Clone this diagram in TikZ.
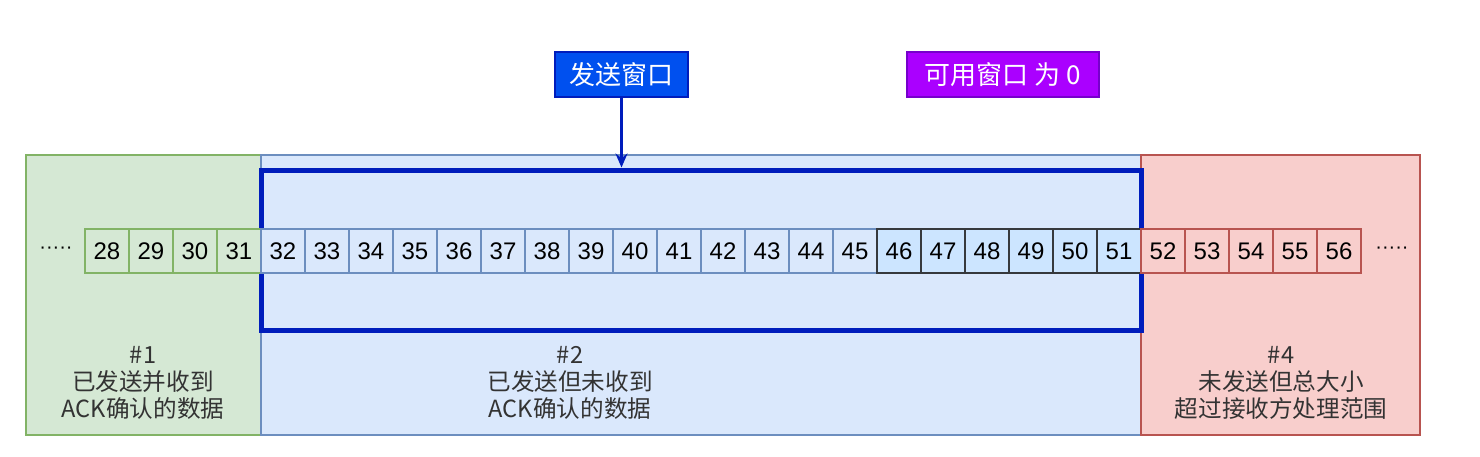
\documentclass[tikz,border=0pt]{standalone}
\usepackage{fontspec}
\setmainfont{Liberation Sans}
\newfontfamily\cjk{Noto Sans CJK SC}
\usetikzlibrary{arrows.meta}

\definecolor{sentfill}{HTML}{D5E8D4}
\definecolor{sentline}{HTML}{82B366}
\definecolor{flyfill}{HTML}{DAE8FC}
\definecolor{flyline}{HTML}{6C8EBF}
\definecolor{usefill}{HTML}{CCE5FF}
\definecolor{useline}{HTML}{36393D}
\definecolor{outfill}{HTML}{F8CECC}
\definecolor{outline}{HTML}{B85450}
\definecolor{winblue}{HTML}{001DBC}
\definecolor{sendfill}{HTML}{0050EF}
\definecolor{zerofill}{HTML}{AA00FF}
\definecolor{zeroline}{HTML}{7700CC}

\tikzset{
  region/.style={draw, line width=1pt, minimum height=140pt, inner sep=0pt},
  seqcell/.style={draw, line width=1pt, minimum width=22pt, minimum height=22pt,
    inner sep=0pt, font=\fontsize{12}{12}\selectfont},
  tag/.style={draw, line width=0.6pt, text=white, minimum height=22.5pt, inner sep=0pt,
    font=\cjk\fontsize{13}{13}\selectfont},
  note/.style={align=center, font=\cjk\fontsize{11.8}{13.5}\selectfont, text=black!80},
  dots/.style={font=\fontsize{10}{10}\selectfont}
}

\begin{document}
\begin{tikzpicture}[x=0.5pt, y=-0.5pt]
  \useasboundingbox (0,0) rectangle (1480,456);

  \node [region, fill=sentfill, draw=sentline, minimum width=117.5pt] (sent) at (143.5,295) {};
  \node [region, fill=flyfill, draw=flyline, minimum width=440pt] (fly) at (701,295) {};
  \node [region, fill=outfill, draw=outline, minimum width=139.5pt] (over) at (1280.5,295) {};

  \node [draw=winblue, line width=2.5pt, minimum width=440pt, minimum height=80pt,
    inner sep=0pt] (win) at (701,250) {};

  \foreach \n in {28,...,56} {
    \pgfmathsetmacro{\cx}{107+44*(\n-28)}
    \ifnum\n<32
      \node [seqcell, fill=sentfill, draw=sentline] (c\n) at (\cx,251) {\n};
    \else\ifnum\n<46
      \node [seqcell, fill=flyfill, draw=flyline] (c\n) at (\cx,251) {\n};
    \else\ifnum\n<52
      \node [seqcell, fill=usefill, draw=useline] (c\n) at (\cx,251) {\n};
    \else
      \node [seqcell, fill=outfill, draw=outline] (c\n) at (\cx,251) {\n};
    \fi\fi\fi
  }
  \node [dots] (ldots) at (56,250) {·····};
  \node [dots] (rdots) at (1392,250) {·····};

  \node [tag, fill=sendfill, draw=winblue, minimum width=66.5pt] (send) at (621.5,74.5) {发送窗口};
  \node [tag, fill=zerofill, draw=zeroline, minimum width=96pt] (zero) at (1003,74.5) {可用窗口 为 0};
  \draw [winblue, line width=1.2pt, -{Stealth[length=7pt, width=6pt]}] (send) -- (send |- win.north);

  \node [note] (n1) at (143,383) {\#1\\已发送并收到\\ACK确认的数据};
  \node [note] (n2) at (570,383) {\#2\\已发送但未收到\\ACK确认的数据};
  \node [note] (n4) at (1281,383) {\#4\\未发送但总大小\\超过接收方处理范围};
\end{tikzpicture}
\end{document}
